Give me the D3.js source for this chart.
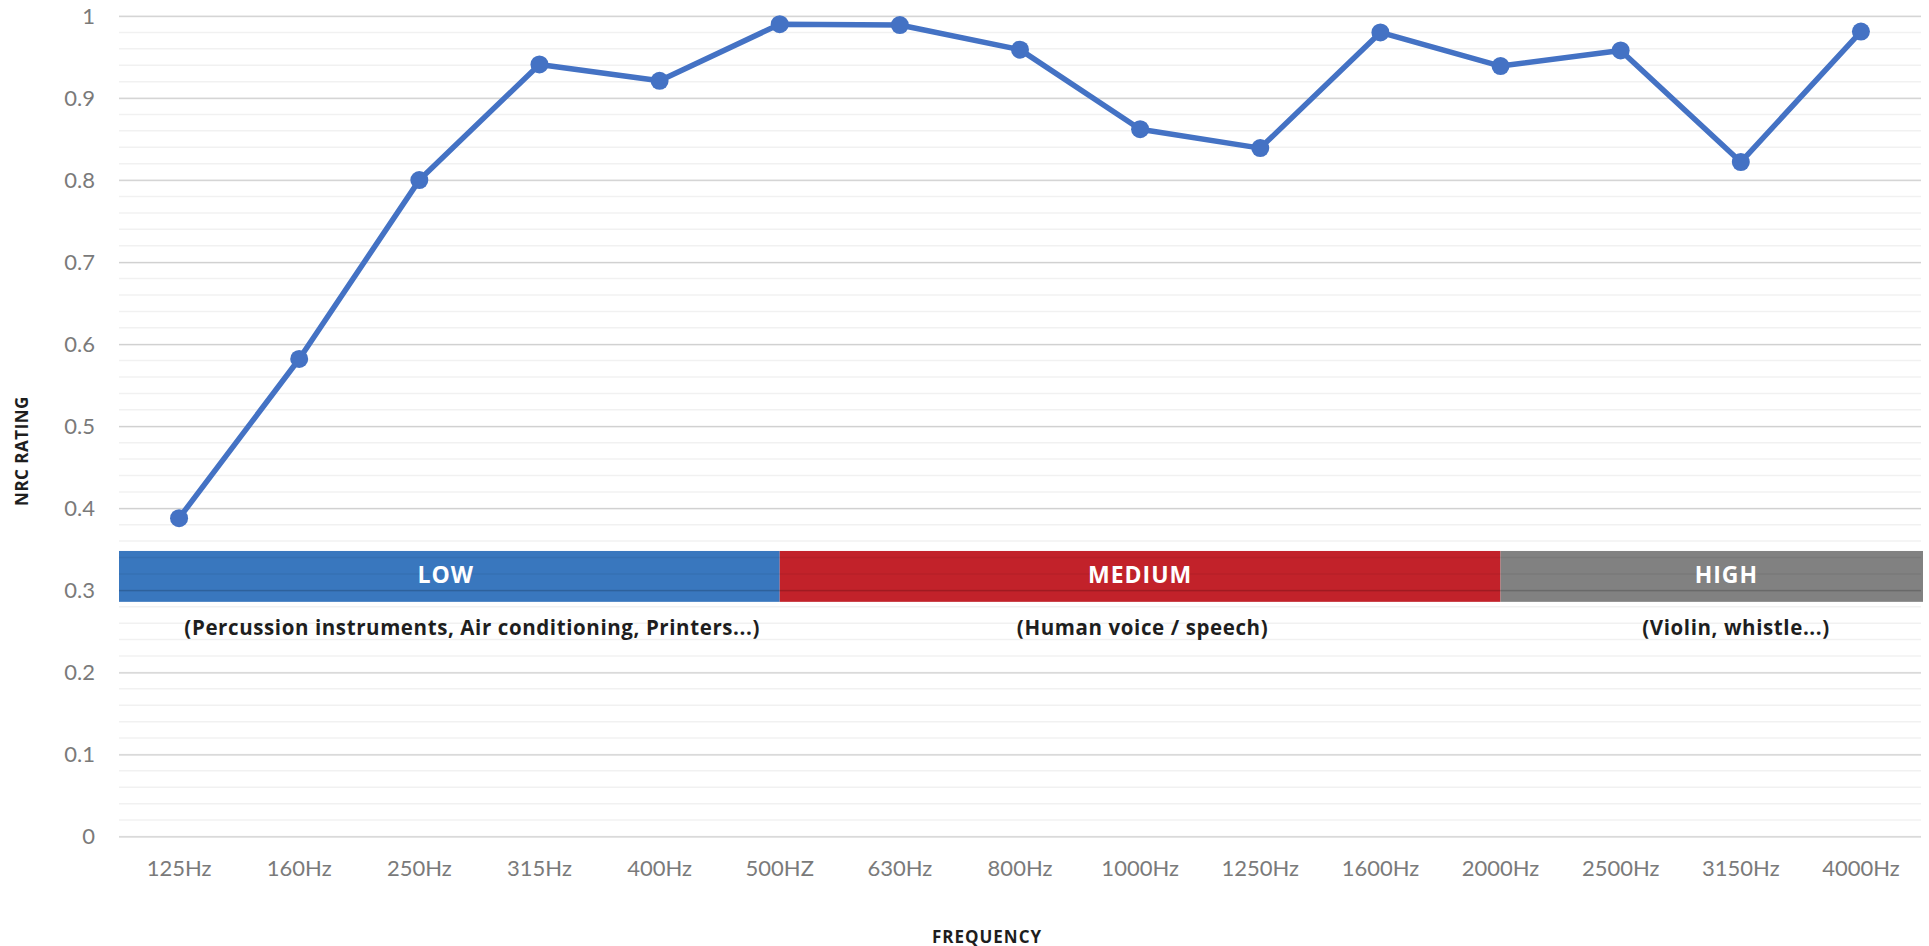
<!DOCTYPE html>
<html>
<head>
<meta charset="utf-8">
<script src="https://cdn.jsdelivr.net/npm/d3@7"></script>
<style>
  body { margin: 0; background: #fff; }
  svg { display: block; }
</style>
</head>
<body>
<div id="chart"></div>
<script>
// chart data
const frequencies = ["125Hz", "160Hz", "250Hz", "315Hz", "400Hz", "500HZ", "630Hz", "800Hz",
  "1000Hz", "1250Hz", "1600Hz", "2000Hz", "2500Hz", "3150Hz", "4000Hz"];
const nrcValues = [0.388, 0.582, 0.80, 0.941, 0.921, 0.99, 0.989, 0.959, 0.862, 0.839, 0.98, 0.939, 0.958, 0.822, 0.981];
const yTicks = [0, 0.1, 0.2, 0.3, 0.4, 0.5, 0.6, 0.7, 0.8, 0.9, 1];

// frequency ranges (start / end as category index)
const zoneNames = ["LOW", "MEDIUM", "HIGH"];
const zoneNotes = ["(Percussion instruments, Air conditioning, Printers...)", "(Human voice / speech)", "(Violin, whistle...)"];
const zoneStart = [0, 5.5, 11.5];
const zoneEnd = [5.5, 11.5, 15];
const zoneColors = ["#3977be", "#c2222a", "#818181"];

const w = 1929, h = 946;
const padLeft = 119, padRight = 1921, padTop = 16, padBottom = 836.5;

const svg = d3.select("#chart").append("svg")
  .attr("width", w)
  .attr("height", h)
  .style("font-family", "Lato, sans-serif");

const x = d3.scaleBand().domain(frequencies).range([padLeft, padRight]);
const xi = d3.scaleLinear().domain([0, frequencies.length]).range([padLeft, padRight]);
const y = d3.scaleLinear().domain([0, 1]).range([padBottom, padTop]);

// zone bars behind the grid
const zoneTop = 0.348, zoneBottom = 0.286;
const zones = zoneNames.map((n, i) => ({name: n, note: zoneNotes[i], s: zoneStart[i], e: zoneEnd[i], color: zoneColors[i]}));

svg.append("g").selectAll("rect")
  .data(zones)
  .enter()
  .append("rect")
  .attr("x", d => xi(d.s))
  .attr("width", d => xi(d.e) - xi(d.s) + (d.e == frequencies.length ? 2 : 0))
  .attr("y", y(zoneTop))
  .attr("height", y(zoneBottom) - y(zoneTop))
  .attr("fill", d => d.color);

// gridlines (drawn as translucent black so they show through the zone bars)
const minorTicks = d3.range(0, 51).map(i => i / 50);
svg.append("g").selectAll("line")
  .data(minorTicks)
  .enter()
  .append("line")
  .attr("x1", padLeft).attr("x2", padRight)
  .attr("y1", d => y(d)).attr("y2", d => y(d))
  .attr("stroke", "#000")
  .attr("stroke-opacity", 0.055)
  .attr("stroke-width", 1.5);

const yAxis = d3.axisLeft(y).tickValues(yTicks).tickSize(-(padRight - padLeft)).tickPadding(24)
  .tickFormat(d => d3.format("")(+d.toFixed(1)));

svg.append("g")
  .attr("transform", "translate(" + padLeft + ",0)")
  .call(yAxis)
  .call(g => g.select(".domain").remove())
  .call(g => g.selectAll(".tick line").attr("stroke", "#000").attr("stroke-opacity", 0.13).attr("stroke-width", 1.5))
  .call(g => g.selectAll(".tick text").attr("fill", "#7a7a7a").style("font-size", "22px").style("font-family", "Lato, sans-serif"));

const xAxis = d3.axisBottom(x).tickSize(0).tickPadding(24);
svg.append("g")
  .attr("transform", "translate(0," + padBottom + ")")
  .call(xAxis)
  .call(g => g.select(".domain").remove())
  .call(g => g.selectAll(".tick text").attr("fill", "#7a7a7a").style("font-size", "22px").style("font-family", "Lato, sans-serif"));

// zone labels
const zoneLabelAt = [2.72, 8.5, 13.38];
const zoneNoteAt = [2.94, 8.52, 13.46];

svg.append("g").selectAll("text")
  .data(zones)
  .enter()
  .append("text")
  .attr("x", (d, i) => xi(zoneLabelAt[i]))
  .attr("y", y((zoneTop + zoneBottom) / 2) - 2)
  .attr("text-anchor", "middle")
  .attr("dominant-baseline", "central")
  .attr("fill", "#fff")
  .style("font-family", "'Open Sans', sans-serif")
  .style("font-weight", "700")
  .style("font-size", "23px")
  .style("letter-spacing", "1px")
  .text(d => d.name);

svg.append("g").selectAll("text")
  .data(zones)
  .enter()
  .append("text")
  .attr("x", (d, i) => xi(zoneNoteAt[i]))
  .attr("y", 627)
  .attr("text-anchor", "middle")
  .attr("dominant-baseline", "central")
  .attr("fill", "#1e1e1e")
  .style("font-family", "'Open Sans', sans-serif")
  .style("font-weight", "700")
  .style("font-size", "20.5px")
  .style("letter-spacing", "0.6px")
  .text(d => d.note);

// line + markers
const pts = frequencies.map((f, i) => ({f: f, v: nrcValues[i]}));
const line = d3.line()
  .x(d => x(d.f) + x.bandwidth() / 2)
  .y(d => y(d.v));

svg.append("path")
  .datum(pts)
  .attr("d", line)
  .attr("fill", "none")
  .attr("stroke", "#4472c4")
  .attr("stroke-width", 5.5)
  .attr("stroke-linejoin", "round");

svg.append("g").selectAll("circle")
  .data(pts)
  .enter()
  .append("circle")
  .attr("cx", d => x(d.f) + x.bandwidth() / 2)
  .attr("cy", d => y(d.v))
  .attr("r", 9)
  .attr("fill", "#4472c4");

// axis titles
svg.append("text")
  .attr("transform", "translate(21," + 451 + ") rotate(-90)")
  .attr("text-anchor", "middle")
  .attr("dominant-baseline", "central")
  .attr("fill", "#1e1e1e")
  .style("font-family", "'Open Sans', sans-serif")
  .style("font-weight", "700")
  .style("font-size", "17px")
  .style("letter-spacing", "0.5px")
  .text("NRC RATING");

svg.append("text")
  .attr("x", 987)
  .attr("y", 936)
  .attr("text-anchor", "middle")
  .attr("dominant-baseline", "central")
  .attr("fill", "#1e1e1e")
  .style("font-family", "'Open Sans', sans-serif")
  .style("font-weight", "700")
  .style("font-size", "17px")
  .style("letter-spacing", "1px")
  .text("FREQUENCY");
</script>
</body>
</html>
